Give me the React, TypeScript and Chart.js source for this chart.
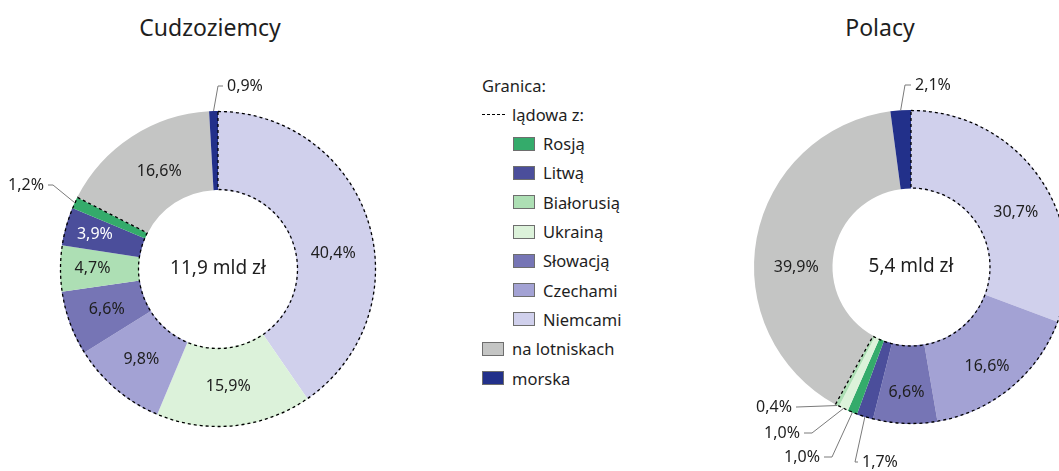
import React, { useEffect, useRef } from "react";
import { Chart, registerables } from "chart.js";

Chart.register(...registerables);

const FONT = "'Noto Sans', sans-serif";
const TEXT = "#1e1e1e";

// ---- data ----
const foreignCategories = ["Niemcami", "Ukrainą", "Czechami", "Słowacją", "Białorusią", "Litwą", "Rosją", "na lotniskach", "morska"];
const foreignValues = [40.4, 15.9, 9.8, 6.6, 4.7, 3.9, 1.2, 16.6, 0.9];
const foreignTotal = "11,9 mld zł";

const polishCategories = ["Niemcami", "Czechami", "Słowacją", "Litwą", "Rosją", "Ukrainą", "Białorusią", "na lotniskach", "morska"];
const polishValues = [30.7, 16.6, 6.6, 1.7, 1.0, 1.0, 0.4, 39.9, 2.1];
const polishTotal = "5,4 mld zł";

const landBorders = ["Rosją", "Litwą", "Białorusią", "Ukrainą", "Słowacją", "Czechami", "Niemcami"];
const otherBorders = ["na lotniskach", "morska"];

const colors: Record<string, string> = {
  "Rosją": "#34ab6b",
  "Litwą": "#4b4e9b",
  "Białorusią": "#addfb4",
  "Ukrainą": "#dcf2da",
  "Słowacją": "#7675b5",
  "Czechami": "#a3a2d4",
  "Niemcami": "#d0d0ec",
  "na lotniskach": "#c4c5c4",
  "morska": "#22308a",
};
const whiteLabel = ["Litwą", "morska"];

// callout layout (label annotations, relative to doughnut centre)
type Callout = { cat: string; elbow: [number, number]; text: [number, number]; align: "left" | "right" };
const foreignCallouts: Callout[] = [
  { cat: "morska", elbow: [0, -183], text: [9, -183], align: "left" },
  { cat: "Rosją", elbow: [-165, -84], text: [-174, -84], align: "right" },
];
const polishCallouts: Callout[] = [
  { cat: "morska", elbow: [-6, -182], text: [4, -182], align: "left" },
  { cat: "Białorusią", elbow: [-114, 140], text: [-119, 140], align: "right" },
  { cat: "Ukrainą", elbow: [-99, 166], text: [-111, 166], align: "right" },
  { cat: "Rosją", elbow: [-79, 190], text: [-91, 190], align: "right" },
  { cat: "Litwą", elbow: [-56, 195], text: [-49, 195], align: "left" },
];
// small nudges of inside labels away from the exact mid-angle
const foreignLabelNudge: Record<string, [number, number]> = {
  "Niemcami": [2, 20],
  "Białorusią": [-7, 0],
  "Litwą": [-9, -3],
  "na lotniskach": [6, 2],
  "Ukrainą": [-2, 0],
};
const polishLabelNudge: Record<string, [number, number]> = {
  "Niemcami": [8, 13],
  "Czechami": [1, 9],
  "Słowacją": [0, 8],
  "na lotniskach": [1, 22],
};

const fmt = (v: number) => v.toFixed(1).replace(".", ",") + "%";

function makePlugin(categories: string[], values: number[], total: string, callouts: Callout[], nudge: Record<string, [number, number]>) {
  return {
    id: "donutDecor",
    afterDatasetsDraw(chart: any) {
      const ctx = chart.ctx;
      const meta = chart.getDatasetMeta(0);
      const arcs = meta.data;
      // dashed outline around land-border group
      const idx = categories.map((c, i) => (landBorders.includes(c) ? i : -1)).filter((i) => i >= 0);
      const first = arcs[Math.min(...idx)].getProps(["x", "y", "startAngle", "endAngle", "innerRadius", "outerRadius"], true);
      const last = arcs[Math.max(...idx)].getProps(["endAngle"], true);
      ctx.save();
      ctx.beginPath();
      ctx.arc(first.x, first.y, first.outerRadius - 0.5, first.startAngle, last.endAngle);
      ctx.arc(first.x, first.y, first.innerRadius + 0.5, last.endAngle, first.startAngle, true);
      ctx.closePath();
      ctx.setLineDash([3, 3]);
      ctx.lineWidth = 1.3;
      ctx.strokeStyle = "#000";
      ctx.stroke();
      ctx.restore();

      // labels
      ctx.save();
      ctx.font = `16px ${FONT}`;
      ctx.textBaseline = "middle";
      arcs.forEach((arc: any, i: number) => {
        const p = arc.getProps(["x", "y", "startAngle", "endAngle", "innerRadius", "outerRadius"], true);
        const mid = (p.startAngle + p.endAngle) / 2;
        const cat = categories[i];
        const co = callouts.find((c) => c.cat === cat);
        const label = fmt(values[i]);
        if (co) {
          const ax = p.x + Math.cos(mid) * p.outerRadius;
          const ay = p.y + Math.sin(mid) * p.outerRadius;
          const ex = p.x + co.elbow[0];
          const ey = p.y + co.elbow[1];
          const tx = p.x + co.text[0];
          const ty = p.y + co.text[1];
          const hx = co.align === "left" ? tx - 4 : tx + 4;
          ctx.beginPath();
          ctx.moveTo(ax, ay);
          ctx.lineTo(ex, ey);
          ctx.lineTo(hx, ty);
          ctx.strokeStyle = "#7a7a7a";
          ctx.lineWidth = 1;
          ctx.setLineDash([]);
          ctx.stroke();
          ctx.fillStyle = TEXT;
          ctx.textAlign = co.align;
          ctx.fillText(label, tx, ty);
        } else {
          const r = (p.innerRadius + p.outerRadius) / 2;
          const n = nudge[cat] || [0, 0];
          ctx.fillStyle = whiteLabel.includes(cat) ? "#ffffff" : TEXT;
          ctx.textAlign = "center";
          ctx.fillText(label, p.x + Math.cos(mid) * r + n[0], p.y + Math.sin(mid) * r + n[1]);
        }
      });
      // centre text
      const c0 = arcs[0].getProps(["x", "y"], true);
      ctx.font = `19px ${FONT}`;
      ctx.fillStyle = TEXT;
      ctx.textAlign = "center";
      ctx.fillText(total, c0.x, c0.y);
      ctx.restore();
    },
  };
}

function Donut(props: {
  categories: string[];
  values: number[];
  total: string;
  callouts: Callout[];
  nudge: Record<string, [number, number]>;
  left: number;
  padding: { top: number; bottom: number; left: number; right: number };
}) {
  const ref = useRef<HTMLCanvasElement>(null);
  useEffect(() => {
    const chart = new Chart(ref.current!, {
      type: "doughnut",
      data: {
        labels: props.categories,
        datasets: [
          {
            data: props.values,
            backgroundColor: props.categories.map((c) => colors[c]),
            borderWidth: 0,
          },
        ],
      },
      options: {
        responsive: false,
        maintainAspectRatio: false,
        animation: false,
        cutout: "50%",
        layout: { padding: props.padding },
        plugins: { legend: { display: false }, tooltip: { enabled: false }, title: { display: false } },
      },
      plugins: [makePlugin(props.categories, props.values, props.total, props.callouts, props.nudge)],
    });
    return () => chart.destroy();
  }, []);
  return (
    <canvas
      ref={ref}
      width={436}
      height={471}
      style={{ position: "absolute", left: props.left, top: 0, width: 436, height: 471 }}
    />
  );
}

const legendRows: { label: string; indent: boolean; kind: "head" | "dash" | "box" }[] = [
  { label: "Granica:", indent: false, kind: "head" },
  { label: "lądowa z:", indent: false, kind: "dash" },
  ...landBorders.map((l) => ({ label: l, indent: true, kind: "box" as const })),
  ...otherBorders.map((l) => ({ label: l, indent: false, kind: "box" as const })),
];

function Legend() {
  return (
    <div style={{ position: "absolute", left: 482, top: 0 }}>
      {legendRows.map((r, i) => {
        const y = 85 + i * 29.3;
        const x0 = r.indent ? 31 : 0;
        return (
          <div
            key={r.label}
            style={{ position: "absolute", left: x0, top: y - 12, height: 24, display: "flex", alignItems: "center", whiteSpace: "nowrap" }}
          >
            {r.kind === "box" && (
              <span
                style={{
                  display: "inline-block",
                  width: 20,
                  height: 12,
                  background: colors[r.label],
                  border: "1px solid #6e6e6e",
                  marginRight: 8,
                }}
              />
            )}
            {r.kind === "dash" && (
              <span style={{ display: "inline-block", width: 23, borderTop: "1.3px dashed #000", marginRight: 7 }} />
            )}
            <span style={{ fontFamily: FONT, fontSize: 16.5, color: TEXT }}>{r.label}</span>
          </div>
        );
      })}
    </div>
  );
}

export default function App() {
  return (
    <div style={{ position: "fixed", left: 0, top: 0, width: 1059, height: 471, overflow: "hidden", background: "#fff" }}>
      <div style={{ position: "absolute", left: 210 - 100, top: 11, width: 200, textAlign: "center", fontFamily: FONT, fontSize: 23, color: TEXT }}>
        Cudzoziemcy
      </div>
      <div style={{ position: "absolute", left: 880 - 100, top: 11, width: 200, textAlign: "center", fontFamily: FONT, fontSize: 23, color: TEXT }}>
        Polacy
      </div>
      <Donut
        categories={foreignCategories}
        values={foreignValues}
        total={foreignTotal}
        callouts={foreignCallouts}
        nudge={foreignLabelNudge}
        left={0}
        padding={{ top: 111, bottom: 44, left: 60, right: 60 }}
      />
      <Donut
        categories={polishCategories}
        values={polishValues}
        total={polishTotal}
        callouts={polishCallouts}
        nudge={polishLabelNudge}
        left={693}
        padding={{ top: 110, bottom: 47, left: 61, right: 61 }}
      />
      <Legend />
    </div>
  );
}
